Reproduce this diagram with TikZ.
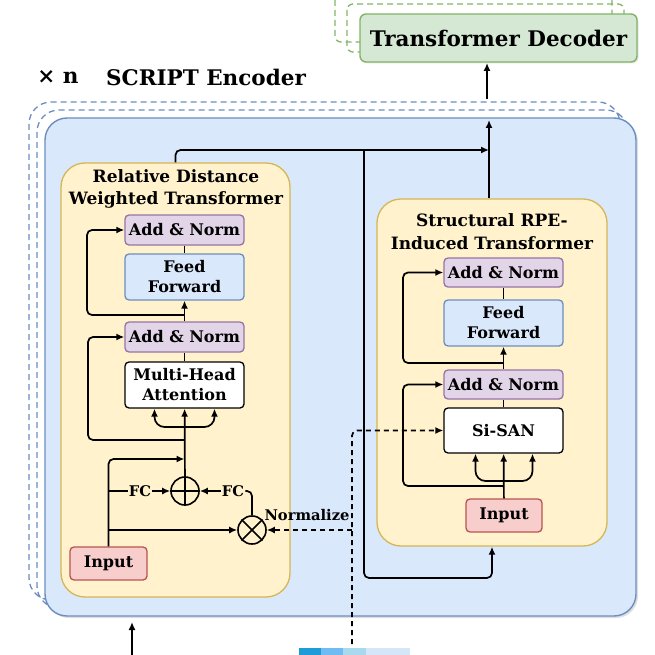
\documentclass[tikz,border=0pt]{standalone}
\usepackage{fontspec}
\setmainfont{DejaVu Serif}
\usetikzlibrary{shadows, arrows.meta}
\definecolor{encfill}{HTML}{DAE8FC}
\definecolor{encline}{HTML}{6C8EBF}
\definecolor{decfill}{HTML}{D5E8D4}
\definecolor{decline}{HTML}{82B366}
\definecolor{trfill}{HTML}{FFF2CC}
\definecolor{trline}{HTML}{D6B656}
\definecolor{anfill}{HTML}{E1D5E7}
\definecolor{anline}{HTML}{9673A6}
\definecolor{infill}{HTML}{F8CECC}
\definecolor{inline}{HTML}{B85450}
\begin{document}
\begin{tikzpicture}[x=1pt, y=-1pt, >={Latex[length=8pt, width=7pt]},
	blk/.style = {draw, rounded corners=4pt, line width=1.3pt, minimum width=119pt, align=center, inner sep=0pt, font=\bfseries\fontsize{16}{20}\selectfont},
	addnorm/.style = {blk, fill=anfill, draw=anline, minimum height=30pt},
	ffwd/.style = {blk, fill=encfill, draw=encline, minimum height=46pt},
	attn/.style = {blk, fill=white, draw=black, minimum height=46pt},
	inbox/.style = {blk, fill=infill, draw=inline, minimum width=77pt, minimum height=33pt},
	ybox/.style = {draw=trline, fill=trfill, line width=1.3pt, rounded corners=24pt, inner sep=0pt},
	ytitle/.style = {align=center, inner sep=0pt, font=\bfseries\fontsize{17}{22.5}\selectfont},
	bigtitle/.style = {inner sep=0pt, font=\bfseries\fontsize{21.5}{24}\selectfont},
	opcirc/.style = {circle, draw, line width=1.6pt, minimum size=28pt, inner sep=0pt},
	lbl/.style = {inner sep=1pt, font=\bfseries\fontsize{14.7}{16}\selectfont},
	wire/.style = {line width=1.7pt, rounded corners=5pt},
	dwire/.style = {wire, dash pattern=on 5pt off 4pt},
	stackcopy/.style = {dash pattern=on 6pt off 4pt, line width=1.3pt},
]
	\useasboundingbox ( 0, 0 ) rectangle ( 655, 655 );

	% декодер
	\draw [stackcopy, draw=decline, rounded corners=6pt] ( 335, -6 ) rectangle ( 612, 42 );
	\draw [stackcopy, draw=decline, rounded corners=6pt] ( 347, 4 ) rectangle ( 624, 52 );
	\node [draw=decline, fill=decfill, line width=1.4pt, rounded corners=6pt, minimum width=277pt, minimum height=48pt, bigtitle, drop shadow={opacity=0.2, shadow xshift=1.5pt, shadow yshift=-1.5pt}] (dec) at ( 498.5, 38 ) {Transformer Decoder};

	% энкодер
	\node [bigtitle] (times) at ( 58, 77 ) {× n};
	\node [bigtitle] (enctitle) at ( 206, 77 ) {SCRIPT Encoder};
	\draw [stackcopy, draw=encline, rounded corners=22pt] ( 29, 102 ) rectangle ( 620, 600 );
	\draw [stackcopy, draw=encline, rounded corners=22pt] ( 37, 110 ) rectangle ( 628, 608 );
	\draw [draw=encline, fill=encfill, line width=1.4pt, rounded corners=22pt, drop shadow={opacity=0.25, shadow xshift=2pt, shadow yshift=-2pt}] ( 45, 118 ) rectangle ( 636, 616 );

	% левый блок
	\node [ybox, minimum width=229pt, minimum height=434pt] (lbox) at ( 175.5, 380 ) {};
	\node [ytitle] (ltitle) at ( 176, 189 ) {Relative Distance\\Weighted Transformer};
	\node [addnorm] (lan1) at ( 184.5, 230 ) {Add \& Norm};
	\node [ffwd] (lff) at ( 184.5, 277 ) {Feed\\Forward};
	\node [addnorm] (lan2) at ( 184.5, 337 ) {Add \& Norm};
	\node [attn] (lmha) at ( 184.5, 385 ) {Multi-Head\\Attention};
	\node [opcirc] (lplus) at ( 185, 491 ) {};
	\node [opcirc] (ltimes) at ( 252, 530 ) {};
	\node [inbox] (linput) at ( 108.5, 563.5 ) {Input};
	\node [lbl] (lfc1) at ( 140, 491 ) {FC};
	\node [lbl] (lfc2) at ( 233, 491 ) {FC};
	\node [lbl] (lnorm) at ( 307, 515 ) {Normalize};
	\draw [line width=1.6pt] (lplus.north) -- (lplus.south) (lplus.west) -- (lplus.east);
	\draw [line width=1.6pt] (ltimes.north west) -- (ltimes.south east) (ltimes.north east) -- (ltimes.south west);

	\coordinate (lres1) at ( 184.5, 315 );
	\coordinate (lres2) at ( 184.5, 440 );
	\coordinate (lfork) at ( 184.5, 427 );
	\coordinate (ljoin) at ( 184.5, 459 );
	\coordinate (lb1) at ( 108.5, 491 );
	\coordinate (lb2) at ( 108.5, 530 );
	\draw [wire] (lan1) -- (lff);
	\draw [wire, ->] (lan2) -- (lff);
	\draw [wire, ->] (lres1) -- ( 87, 315 ) -- ( 87, 230 ) -- (lan1.west);
	\draw [wire] (lmha) -- (lan2);
	\draw [wire, ->] (lres2) -- ( 88, 440 ) -- ( 88, 337 ) -- (lan2.west);
	\draw [wire, ->] (lplus) -- (lmha);
	\draw [wire, ->, rounded corners=10pt] (lfork) -| ([xshift=-30pt]lmha.south);
	\draw [wire, ->, rounded corners=10pt] (lfork) -| ([xshift=30pt]lmha.south);
	\draw [wire, ->] (linput.north) |- (ljoin);
	\draw [wire] (lb1) -- (lfc1);
	\draw [wire, ->] (lfc1) -- (lplus);
	\draw [wire, ->] (lb2) -- (ltimes);
	\draw [wire] (ltimes.north) |- (lfc2.east);
	\draw [wire, ->] (lfc2) -- (lplus);

	% правый блок
	\node [ybox, minimum width=230pt, minimum height=347pt] (rbox) at ( 492, 372.5 ) {};
	\node [ytitle] (rtitle) at ( 492, 231.5 ) {Structural RPE-\\Induced Transformer};
	\node [addnorm, minimum height=29pt] (ran1) at ( 503.5, 272.5 ) {Add \& Norm};
	\node [ffwd] (rff) at ( 503.5, 323 ) {Feed\\Forward};
	\node [addnorm, minimum height=29pt] (ran2) at ( 503.5, 384.5 ) {Add \& Norm};
	\node [attn, minimum height=45pt] (rsan) at ( 503.5, 430.5 ) {Si-SAN};
	\node [inbox, minimum width=76pt] (rinput) at ( 504, 515.5 ) {Input};

	\coordinate (rres1) at ( 503.5, 363 );
	\coordinate (rres2) at ( 503.5, 486 );
	\coordinate (rfork) at ( 503.5, 481 );
	\draw [wire] (ran1) -- (rff);
	\draw [wire, ->] (ran2) -- (rff);
	\draw [wire, ->] (rres1) -- ( 403, 363 ) -- ( 403, 272.5 ) -- (ran1.west);
	\draw [wire] (rsan) -- (ran2);
	\draw [wire, ->] (rres2) -- ( 403, 486 ) -- ( 403, 384.5 ) -- (ran2.west);
	\draw [wire, ->] (rinput) -- (rsan);
	\draw [wire, ->, rounded corners=10pt] (rfork) -| ([xshift=-28pt]rsan.south);
	\draw [wire, ->, rounded corners=10pt] (rfork) -| ([xshift=29pt]rsan.south);

	% связи между блоками
	\coordinate (ttop) at ( 489, 150 );
	\coordinate (tsplit) at ( 364, 150 );
	\coordinate (tlow) at ( 364, 578 );
	\coordinate (etop) at ( 489, 120 );
	\coordinate (eout) at ( 487, 99 );
	\coordinate (din) at ( 487, 63 );
	\coordinate (ein) at ( 132, 655 );
	\coordinate (ebot) at ( 132, 622 );
	\coordinate (dbot) at ( 352, 644 );
	\coordinate (dmid) at ( 352, 530 );
	\draw [wire, ->] (lbox.north) |- (ttop);
	\draw [wire, ->] (tsplit) -- (tlow) -| (rbox.south);
	\draw [wire, ->] ([xshift=-3pt]rbox.north) -- (etop);
	\draw [wire, ->] (eout) -- (din);
	\draw [wire, ->] (ein) -- (ebot);
	\draw [dwire, ->] (dbot) |- (rsan.west);
	\draw [dwire, ->] (dmid) -- (ltimes);

	% полоска снизу
	\fill [fill={rgb,255:red,31;green,155;blue,216}] ( 299, 648 ) rectangle ( 321, 655 );
	\fill [fill={rgb,255:red,110;green,188;blue,242}] ( 321, 648 ) rectangle ( 343, 655 );
	\fill [fill={rgb,255:red,169;green,217;blue,236}] ( 343, 648 ) rectangle ( 366, 655 );
	\fill [fill={rgb,255:red,212;green,230;blue,247}] ( 366, 648 ) rectangle ( 410, 655 );
\end{tikzpicture}
\end{document}
